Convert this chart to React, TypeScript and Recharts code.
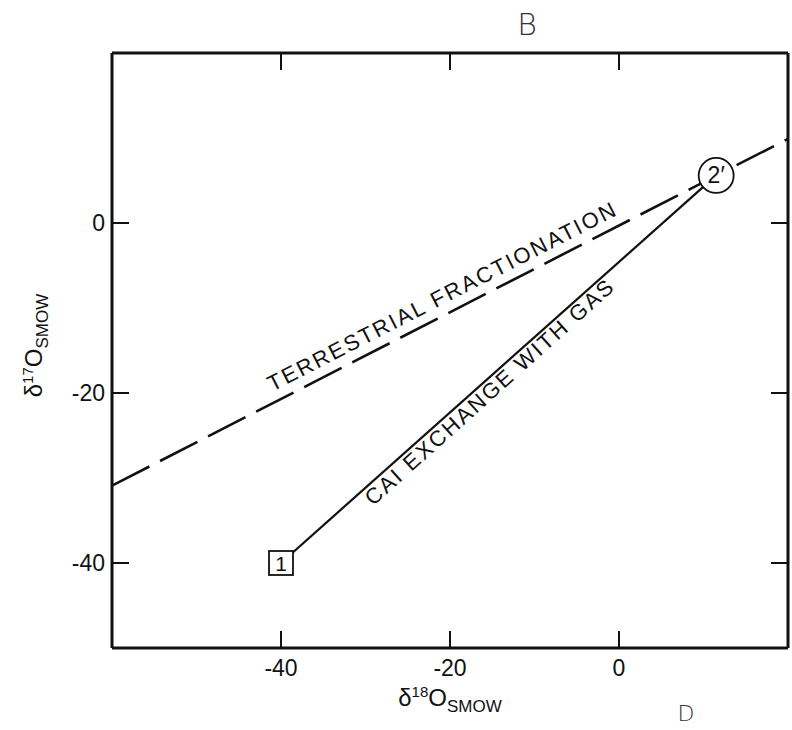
// Oxygen three-isotope plot: terrestrial fractionation line vs CAI exchange path.
import { ComposedChart, Label, Line, Scatter, XAxis, YAxis } from 'recharts';

const FONT = '"Liberation Sans", Arial, Helvetica, sans-serif';
const INK = '#111';

// axes (per mil)
const xDomain = [-60, 20];
const yDomain = [-50, 20];
const xTicks = [-40, -20, 0];
const yTicks = [-40, -20, 0];

const tfX = [-60, 20];
const tfY = [-30.9, 9.9];

// CAI exchange path: point 1 -> point 2'
const caiX = [-40, 11.5];
const caiY = [-40, 5.6];
const caiNames = ['1', '2\u2032'];

// text written along the two lines
const noteText = ['TERRESTRIAL FRACTIONATION', 'CAI EXCHANGE WITH GAS'];
const noteX = [-20.5, -14.7];
const noteY = [-9.4, -20.5];
const noteAngle = [-27.1, -41.9];

const tfData = tfX.map((x, i) => ({ x, y: tfY[i] }));
const caiData = caiX.map((x, i) => ({ x, y: caiY[i], name: caiNames[i] }));
const noteData = noteX.map((x, i) => ({ x, y: noteY[i], text: noteText[i], angle: noteAngle[i] }));

// inward tick marks on all four sides of the frame
const tickMarks = [
  ...xTicks.map((v) => ({ x: v, y: yDomain[0], dx: 0, dy: -1 })),
  ...xTicks.map((v) => ({ x: v, y: yDomain[1], dx: 0, dy: 1 })),
  ...yTicks.map((v) => ({ x: xDomain[0], y: v, dx: 1, dy: 0 })),
  ...yTicks.map((v) => ({ x: xDomain[1], y: v, dx: -1, dy: 0 })),
];

const TICK_LEN = 17;

function PointMarker(props: any) {
  const { cx, cy, payload } = props;
  if (payload.name === '1') {
    return (
      <g>
        <rect x={cx - 12} y={cy - 12} width={24} height={24} fill="#fff" stroke={INK} strokeWidth={1.8} />
        <text x={cx} y={cy + 7.5} textAnchor="middle" fontSize={21} fontFamily={FONT} fill={INK}>
          1
        </text>
      </g>
    );
  }
  return (
    <g>
      <circle cx={cx} cy={cy} r={17.5} fill="#fff" stroke={INK} strokeWidth={1.8} />
      <text x={cx} y={cy + 8} textAnchor="middle" fontSize={23} fontFamily={FONT} fill={INK}>
        {payload.name}
      </text>
    </g>
  );
}

function NoteText(props: any) {
  const { cx, cy, payload } = props;
  return (
    <text
      x={cx}
      y={cy}
      transform={`rotate(${payload.angle} ${cx} ${cy})`}
      textAnchor="middle"
      fontSize={22}
      letterSpacing={2.2}
      fontFamily={FONT}
      fill={INK}
    >
      {payload.text}
    </text>
  );
}

function TickMark(props: any) {
  const { cx, cy, payload } = props;
  return (
    <line
      x1={cx}
      y1={cy}
      x2={cx + payload.dx * TICK_LEN}
      y2={cy + payload.dy * TICK_LEN}
      stroke={INK}
      strokeWidth={2}
    />
  );
}

function XTitle(props: any) {
  const { x, y, width } = props.viewBox;
  return (
    <text x={x + width / 2} y={y + 58} textAnchor="middle" fontFamily={FONT} fill={INK} fontSize={24}>
      <tspan>δ</tspan>
      <tspan fontSize={15} dy={-9}>18</tspan>
      <tspan dy={9}>O</tspan>
      <tspan fontSize={17} dy={6}>SMOW</tspan>
    </text>
  );
}

function YTitle(props: any) {
  const { x, y, width, height } = props.viewBox;
  const cx = x + width - 70;
  const cy = y + height / 2 - 5;
  return (
    <text
      x={cx}
      y={cy}
      transform={`rotate(-90 ${cx} ${cy})`}
      textAnchor="middle"
      fontFamily={FONT}
      fill={INK}
      fontSize={24}
    >
      <tspan>δ</tspan>
      <tspan fontSize={15} dy={-9}>17</tspan>
      <tspan dy={9}>O</tspan>
      <tspan fontSize={17} dy={6}>SMOW</tspan>
    </text>
  );
}

const tickFont = { fill: INK, fontSize: 23, fontFamily: FONT };
const frame = { stroke: INK, strokeWidth: 3 };

export default function App() {
  return (
    <div style={{ position: 'absolute', left: 0, top: 0, width: 792, height: 730, background: '#fff' }}>
      <ComposedChart width={792} height={730} margin={{ top: 52, right: 3, bottom: 81, left: 111 }}>
        <XAxis
          xAxisId="b"
          type="number"
          dataKey="x"
          domain={xDomain}
          ticks={xTicks}
          interval={0}
          allowDataOverflow
          height={1}
          tick={tickFont}
          tickSize={0}
          tickMargin={12}
          axisLine={frame}
          tickLine={false}
        >
          <Label content={XTitle} />
        </XAxis>
        <XAxis
          xAxisId="t"
          orientation="top"
          type="number"
          dataKey="x"
          domain={xDomain}
          ticks={xTicks}
          allowDataOverflow
          height={1}
          tick={false}
          axisLine={frame}
          tickLine={false}
        />
        <YAxis
          yAxisId="l"
          type="number"
          dataKey="y"
          domain={yDomain}
          ticks={yTicks}
          interval={0}
          allowDataOverflow
          width={1}
          tick={tickFont}
          tickSize={0}
          tickMargin={7}
          axisLine={frame}
          tickLine={false}
        >
          <Label content={YTitle} />
        </YAxis>
        <YAxis
          yAxisId="r"
          orientation="right"
          type="number"
          dataKey="y"
          domain={yDomain}
          ticks={yTicks}
          allowDataOverflow
          width={1}
          tick={false}
          axisLine={frame}
          tickLine={false}
        />
        <Scatter
          xAxisId="b"
          yAxisId="l"
          data={tickMarks}
          dataKey="y"
          shape={TickMark}
          isAnimationActive={false}
        />
        <Line
          xAxisId="b"
          yAxisId="l"
          data={tfData}
          dataKey="y"
          type="linear"
          stroke={INK}
          strokeWidth={2.6}
          strokeDasharray="42 12"
          dot={false}
          activeDot={false}
          isAnimationActive={false}
        />
        <Line
          xAxisId="b"
          yAxisId="l"
          data={caiData}
          dataKey="y"
          type="linear"
          stroke={INK}
          strokeWidth={2.2}
          dot={false}
          activeDot={false}
          isAnimationActive={false}
        />
        <Scatter
          xAxisId="b"
          yAxisId="l"
          data={caiData}
          dataKey="y"
          shape={PointMarker}
          isAnimationActive={false}
        />
        <Scatter
          xAxisId="b"
          yAxisId="l"
          data={noteData}
          dataKey="y"
          shape={NoteText}
          isAnimationActive={false}
        />
      </ComposedChart>
      {/* handwritten panel marks */}
      <svg width={792} height={730} style={{ position: 'absolute', left: 0, top: 0, pointerEvents: 'none' }}>
        <text x={527} y={35} textAnchor="middle" fontSize={30} fontFamily='"DejaVu Sans", sans-serif' fontWeight={200} fill="#333">
          B
        </text>
        <text x={686} y={721} textAnchor="middle" fontSize={22} fontFamily='"DejaVu Sans", sans-serif' fontWeight={200} fill="#333">
          D
        </text>
      </svg>
    </div>
  );
}
